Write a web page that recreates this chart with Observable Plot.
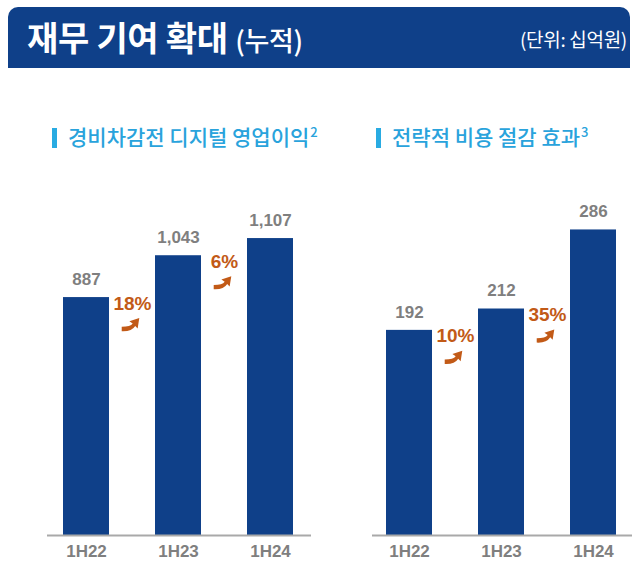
<!DOCTYPE html>
<html><head><meta charset="utf-8">
<script src="https://cdn.jsdelivr.net/npm/d3@7"></script>
<script src="https://cdn.jsdelivr.net/npm/@observablehq/plot@0.6"></script>
<style>
html,body{margin:0;padding:0;background:#fff;}
#page{position:relative;width:640px;height:568px;overflow:hidden;font-family:"Noto Sans CJK KR","Noto Sans",sans-serif;}
#header{position:absolute;left:8px;top:7px;width:622px;height:61px;background:#0f4089;border-radius:10px 10px 0 0;color:#fff;}
#title{position:absolute;left:19px;top:5px;font-size:34px;font-weight:700;letter-spacing:-0.3px;white-space:nowrap;}
#title span{font-size:27px;font-weight:500;}
#unit{position:absolute;right:3px;top:18px;font-size:19px;font-weight:400;letter-spacing:-0.3px;}
.sub{position:absolute;top:121px;font-size:21px;font-weight:500;color:#29a3dc;letter-spacing:0px;white-space:nowrap;}
.sub .bar{display:inline-block;width:5px;height:20px;background:#29abe2;vertical-align:-3px;margin-right:11px;}
.sub sup{font-size:13px;vertical-align:8px;margin-left:1px;}
.chart{position:absolute;top:160px;}
</style></head>
<body><div id="page">
<div id="header"><div id="title">재무 기여 확대 <span>(누적)</span></div><div id="unit">(단위: 십억원)</div></div>
<div class="sub" style="left:52px"><span class="bar"></span><span id="t1"></span><sup>2</sup></div>
<div class="sub" style="left:376px"><span class="bar"></span><span id="t2"></span><sup>3</sup></div>
<div class="chart" id="c1" style="left:0px"></div>
<div class="chart" id="c2" style="left:320px"></div>
</div>
<script>
const periods = ["1H22", "1H23", "1H24"];
const digitalProfit = [887, 1043, 1107];
const costSaving = [192, 212, 286];
const digitalGrowth = ["18%", "6%"];
const costGrowth = ["10%", "35%"];
const titles = ["경비차감전 디지털 영업이익", "전략적 비용 절감 효과"];

document.getElementById("t1").textContent = titles[0];
document.getElementById("t2").textContent = titles[1];

const barColor = "#0f4089";
const grayText = "#7f7f7f";
const orange = "#c25a17";

// curved up-right arrow symbol (d3 symbol type)
const curvedArrow = {
  draw(ctx, size) {
    const k = Math.sqrt(size) / 10;
    ctx.moveTo(-8 * k, 2 * k);
    ctx.quadraticCurveTo(0 * k, 2 * k, 2 * k, -1 * k);
    ctx.lineTo(-1 * k, -3 * k);
    ctx.lineTo(8 * k, -6 * k);
    ctx.lineTo(6.5 * k, 3.5 * k);
    ctx.lineTo(4.3 * k, 1.2 * k);
    ctx.quadraticCurveTo(1 * k, 6.5 * k, -8 * k, 6 * k);
    ctx.closePath();
  }
};

function makeChart(values, growth, yMax, ml, mr, insL, insR) {
  const data = periods.map((p, i) => ({period: p, value: values[i]}));
  const g = growth.map((t, i) => ({label: t, period: periods[i + 1], base: values[i]}));
  return Plot.plot({
    width: 320,
    height: 408,
    marginTop: 0,
    marginBottom: 33,
    marginLeft: ml,
    marginRight: mr,
    style: {fontFamily: "'Liberation Sans', Arial, sans-serif", background: "transparent"},
    x: {domain: periods, paddingInner: 0.5, paddingOuter: 0.25, label: null},
    y: {domain: [0, yMax], axis: null},
    marks: [
      Plot.barY(data, {x: "period", y: "value", fill: barColor}),
      Plot.ruleY([0], {stroke: "#a9a9a9", strokeWidth: 2, insetLeft: insL, insetRight: insR}),
      Plot.text(data, {x: "period", y: "value", text: d => d3.format(",")(d.value), dy: -18, fontSize: 17, fontWeight: "bold", fill: grayText}),
      Plot.text(g, {x: "period", y: "base", text: "label", dx: -46, dy: 6, fontSize: 19, fontWeight: "bold", fill: orange}),
      Plot.dot(g, {x: "period", y: "base", symbol: curvedArrow, r: 6.2, fill: orange, stroke: null, dx: -48, dy: 27}),
      Plot.axisX({tickSize: 0, tickPadding: 9, fontSize: 17, fontWeight: "bold", color: grayText, label: null})
    ]
  });
}

document.getElementById("c1").append(makeChart(digitalProfit, digitalGrowth, 1398, 39, 4, 8, 5));
document.getElementById("c2").append(makeChart(costSaving, costGrowth, 351, 43, 1, 9, 7));
</script>
</body></html>
